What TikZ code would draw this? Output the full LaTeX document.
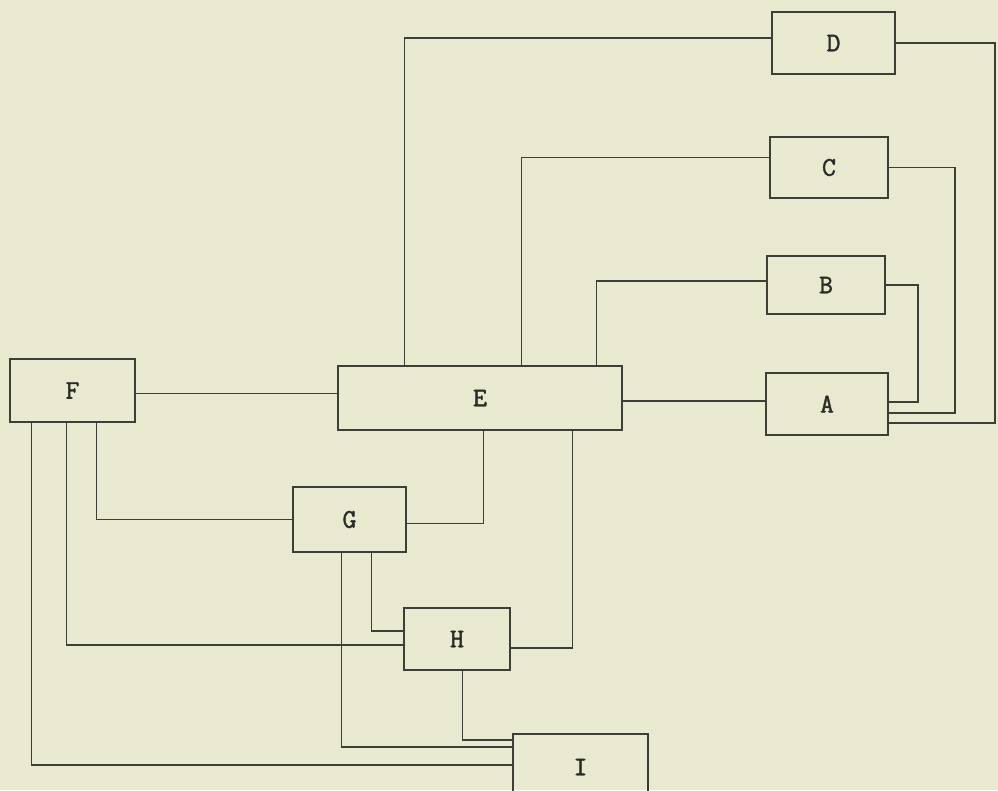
\documentclass[tikz,border=0pt]{standalone}
\usepackage{fontspec}
\newfontfamily\typer{Latin Modern Mono}[FakeBold=1.6]
\definecolor{paper}{RGB}{233,233,207}
\definecolor{ink}{RGB}{62,62,56}
\begin{document}
\begin{tikzpicture}[x=1pt,y=-1pt,
  blk/.style={draw=ink,line width=1.3pt,inner sep=0pt,
    font=\typer\fontsize{27}{30}\selectfont,text=ink!70!black},
  wire/.style={draw=ink,line width=1.1pt}]
  % sheet
  \fill[paper] (0,0) rectangle (998,790);
  \useasboundingbox (0,0) rectangle (998,790);
  \clip (0,0) rectangle (998,790);

  % blocks
  \node[blk,minimum width=123pt,minimum height=62pt] (D) at (833.5,43) {D};
  \node[blk,minimum width=118pt,minimum height=61pt] (C) at (829,167.5) {C};
  \node[blk,minimum width=118pt,minimum height=58pt] (B) at (826,285) {B};
  \node[blk,minimum width=122pt,minimum height=62pt] (A) at (827,404) {A};
  \node[blk,minimum width=284pt,minimum height=64pt] (E) at (480,398) {E};
  \node[blk,minimum width=125pt,minimum height=63pt] (F) at (72.5,390.5) {F};
  \node[blk,minimum width=113pt,minimum height=65pt] (G) at (349.5,519.5) {G};
  \node[blk,minimum width=106pt,minimum height=62pt] (H) at (457,639) {H};
  \node[blk,minimum width=135pt,minimum height=66pt] (I) at (580.5,767) {I};

  % vertical runs at the right
  \coordinate (rimD) at (995,0);
  \coordinate (rimC) at (955,0);
  \coordinate (rimB) at (918,0);

  % E to D, C, B and A
  \draw[wire] ([xshift=67pt]E.north west) |- ([yshift=5pt]D.west);
  \draw[wire] ([xshift=184pt]E.north west) |- ([yshift=10pt]C.west);
  \draw[wire] ([xshift=259pt]E.north west) |- ([yshift=4pt]B.west);
  \draw[wire] ([yshift=-3pt]E.east) -- ([yshift=-3pt]E.east -| A.west);

  % D, C, B back into A
  \draw[wire] (D.east) -- (D.east -| rimD) |- ([yshift=-19pt]A.east);
  \draw[wire] (C.east) -- (C.east -| rimC) |- ([yshift=-9pt]A.east);
  \draw[wire] (B.east) -- (B.east -| rimB) |- ([yshift=2pt]A.east);

  % F
  \draw[wire] ([yshift=-3pt]F.east) -- ([yshift=-3pt]F.east -| E.west);
  \draw[wire] ([xshift=87pt]F.south west) |- (G.west);
  \draw[wire] ([xshift=57pt]F.south west) |- ([yshift=-6pt]H.west);
  \draw[wire] ([xshift=22pt]F.south west) |- ([yshift=2pt]I.west);

  % E down to G and H
  \draw[wire] ([xshift=146pt]E.south west) |- ([yshift=-4pt]G.east);
  \draw[wire] ([xshift=235pt]E.south west) |- ([yshift=-9pt]H.east);

  % G and H down to H and I
  \draw[wire] ([xshift=79pt]G.south west) |- ([yshift=8pt]H.west);
  \draw[wire] ([xshift=49pt]G.south west) |- ([yshift=20pt]I.west);
  \draw[wire] ([xshift=59pt]H.south west) |- ([yshift=27pt]I.west);
\end{tikzpicture}
\end{document}
